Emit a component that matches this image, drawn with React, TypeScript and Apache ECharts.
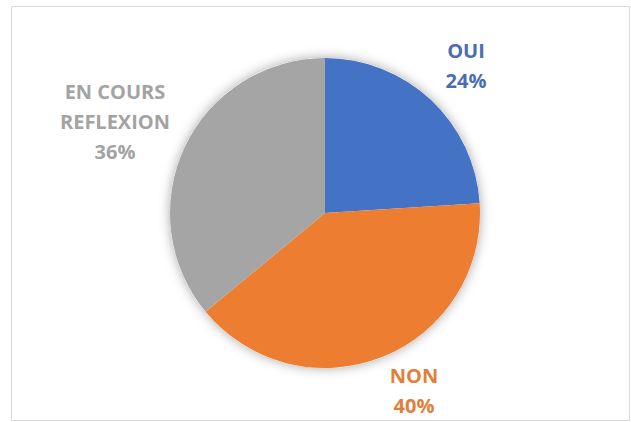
import React, { useEffect, useRef } from "react";
import * as echarts from "echarts";

const categories = ["OUI", "NON", "EN COURS\nREFLEXION"];
const values = [24, 40, 36];
const sliceColors = ["#4472C4", "#ED7D31", "#A5A5A5"];
const labelColors = ["#4A6DB3", "#E37E3B", "#A3A3A3"];
const labelCenters: [number, number][] = [
  [466, 65],
  [414, 390],
  [115, 121],
];

export default function App() {
  const ref = useRef<HTMLDivElement>(null);
  useEffect(() => {
    if (!ref.current) return;
    const chart = echarts.init(ref.current, undefined, { renderer: "svg" });
    const total = values.reduce((a, b) => a + b, 0);
    chart.setOption({
      animation: false,
      backgroundColor: "#ffffff",
      graphic: [
        {
          type: "rect",
          shape: { x: 11.5, y: 6.5, width: 618, height: 414 },
          style: { fill: "none", stroke: "#d9d9d9", lineWidth: 1 },
          silent: true,
          z: -10,
        },
      ],
      series: [
        {
          type: "pie",
          center: [325, 213],
          radius: 155,
          silent: true,
          z: 1,
          label: { show: false },
          labelLine: { show: false },
          itemStyle: {
            color: "#ffffff",
            shadowBlur: 12,
            shadowColor: "rgba(0,0,0,0.35)",
            shadowOffsetX: 0,
            shadowOffsetY: 0,
          },
          data: [{ value: total, name: "bg" }],
        },
        {
          type: "pie",
          center: [325, 213],
          radius: 155,
          startAngle: 90,
          clockwise: true,
          z: 2,
          itemStyle: { borderWidth: 0 },
          labelLine: { show: false },
          label: {
            show: true,
            position: "outside",
            formatter: "{b}\n{c}%",
            fontFamily: "Open Sans",
            fontWeight: "bold",
            fontSize: 20,
            lineHeight: 30,
            align: "center",
          },
          labelLayout: (params: any) => {
            const p = labelCenters[params.dataIndex];
            return { x: p[0], y: p[1], align: "center", verticalAlign: "middle" };
          },
          data: categories.map((name, i) => ({
            name,
            value: values[i],
            itemStyle: { color: sliceColors[i] },
            label: { color: labelColors[i] },
          })),
        },
      ],
    });
    return () => chart.dispose();
  }, []);
  return (
    <div
      ref={ref}
      style={{ position: "fixed", left: 0, top: 0, width: 631, height: 422 }}
    />
  );
}
